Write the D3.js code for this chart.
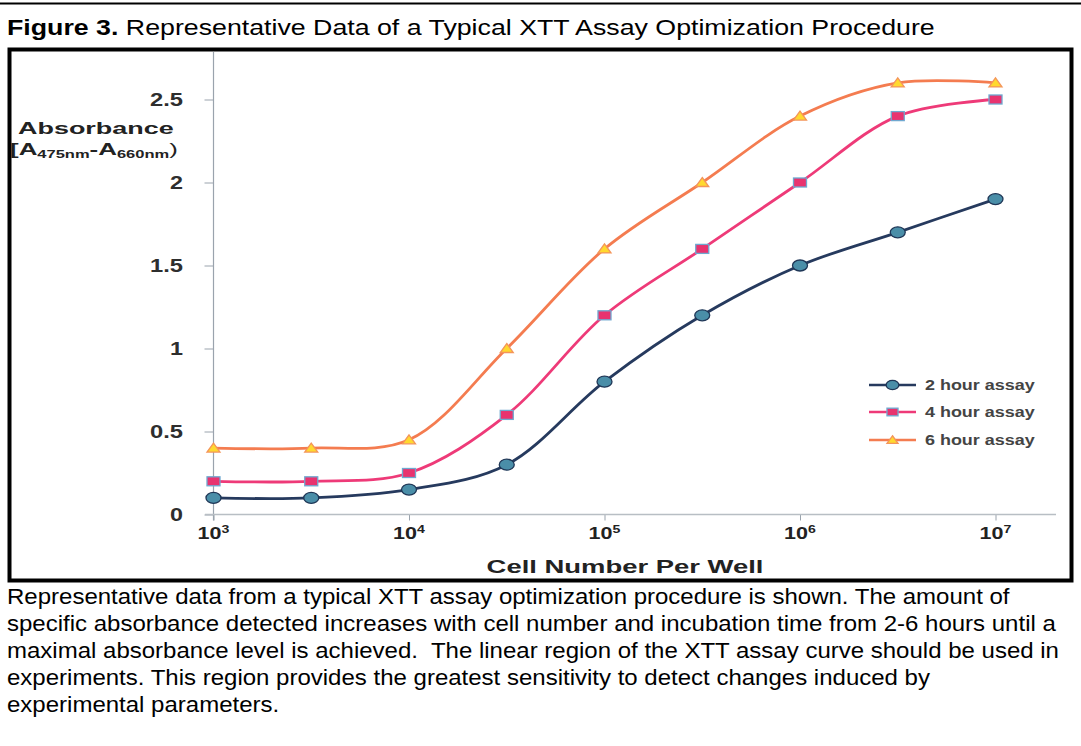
<!DOCTYPE html>
<html>
<head>
<meta charset="utf-8">
<script src="https://cdn.jsdelivr.net/npm/d3@7"></script>
<style>
  html, body { margin: 0; padding: 0; background: #fff; }
  svg { display: block; font-family: "Liberation Sans", Arial, sans-serif; }
</style>
</head>
<body>
<svg id="fig"></svg>
<script>
// cell numbers per well (half-decade steps)
const cells = [1000, 3162, 10000, 31623, 100000, 316228, 1000000, 3162278, 10000000];
const hour2 = [0.10, 0.10, 0.15, 0.30, 0.80, 1.20, 1.50, 1.70, 1.90];
const hour4 = [0.20, 0.20, 0.25, 0.60, 1.20, 1.60, 2.00, 2.40, 2.50];
const hour6 = [0.40, 0.40, 0.45, 1.00, 1.60, 2.00, 2.40, 2.60, 2.60];
const seriesNames = ["2 hour assay", "4 hour assay", "6 hour assay"];
const yTicks = [0, 0.5, 1, 1.5, 2, 2.5];
const xTicks = [1e3, 1e4, 1e5, 1e6, 1e7];
const xTickExp = ["3", "4", "5", "6", "7"];
const captionLines = [
    "Representative data from a typical XTT assay optimization procedure is shown. The amount of",
    "specific absorbance detected increases with cell number and incubation time from 2-6 hours until a",
    "maximal absorbance level is achieved.  The linear region of the XTT assay curve should be used in",
    "experiments. This region provides the greatest sensitivity to detect changes induced by",
    "experimental parameters."
];

let width = 1081;
let height = 746;

let svg = d3.select("#fig")
    .attr("width", width)
    .attr("height", height);

// the original figure is stretched sideways, so text gets a horizontal scale
function stretchText(parent, x, y, sx) {
    return parent.append("g")
        .attr("class", "stretch")
        .attr("data-x", x).attr("data-y", y)
        .attr("transform", "translate(" + x + "," + y + ") scale(" + sx + ",1)")
        .append("text");
}

// rescale a stretched text so that it spans the given width, returns the factor
function fitWidth(text, target) {
    let g = d3.select(text.node().parentNode);
    let w = text.node().getBBox().width;
    let sx = target / w;
    g.attr("transform", "translate(" + g.attr("data-x") + "," + g.attr("data-y") + ") scale(" + sx + ",1)");
    return sx;
}

// top rule
svg.append("line")
    .attr("x1", 0).attr("x2", width)
    .attr("y1", 3.5).attr("y2", 3.5)
    .attr("stroke", "#000").attr("stroke-width", 2);

// title
let title = stretchText(svg, 7, 35, 1)
    .attr("font-size", 21.6)
    .attr("fill", "#000");
title.append("tspan").attr("font-weight", "bold").text("Figure 3.");
title.append("tspan").text(" Representative Data of a Typical XTT Assay Optimization Procedure");
fitWidth(title, 928);

// frame
svg.append("rect")
    .attr("x", 9.5).attr("y", 49.5)
    .attr("width", 1062).attr("height", 531)
    .attr("fill", "none")
    .attr("stroke", "#000")
    .attr("stroke-width", 4);

let x = d3.scaleLog()
    .domain([1e3, 1e7])
    .range([213.5, 995.5]);

let y = d3.scaleLinear()
    .domain([0, 2.5])
    .range([514.5, 99.5]);

let axisColor = "#9aa3ad";

// y axis
let yAxis = svg.append("g")
    .attr("transform", "translate(" + x(1e3) + ",0)")
    .call(d3.axisLeft(y).tickValues(yTicks).tickSize(9).tickFormat(""));
yAxis.select(".domain").remove();
yAxis.selectAll(".tick line").attr("stroke", axisColor);
svg.append("line")
    .attr("x1", x(1e3)).attr("x2", x(1e3))
    .attr("y1", 52).attr("y2", y(0) + 6)
    .attr("stroke", axisColor).attr("stroke-width", 1.2);

yTicks.forEach(function (t) {
    let lab = stretchText(svg, 183, y(t) + 6.5, 1)
        .attr("text-anchor", "end")
        .attr("font-size", 18.5)
        .attr("font-weight", "bold")
        .attr("fill", "#2e2e2e")
        .text(t);
    fitWidth(lab, t === 2.5 || t === 1.5 || t === 0.5 ? 33 : 13);
});

// x axis
let xAxis = svg.append("g")
    .attr("transform", "translate(0," + y(0) + ")")
    .call(d3.axisBottom(x).tickValues(xTicks).tickSize(6).tickFormat(""));
xAxis.select(".domain").remove();
xAxis.selectAll(".tick line").attr("stroke", axisColor);
svg.append("line")
    .attr("x1", 205).attr("x2", 1056)
    .attr("y1", y(0)).attr("y2", y(0))
    .attr("stroke", "#b8bec4").attr("stroke-width", 1.5);

xTicks.forEach(function (t, i) {
    let lab = stretchText(svg, x(t), 538.5, 1)
        .attr("text-anchor", "middle")
        .attr("font-size", 16)
        .attr("font-weight", "bold")
        .attr("fill", "#222");
    lab.append("tspan").text("10");
    lab.append("tspan").attr("font-size", 10.5).attr("dy", -6).text(xTickExp[i]);
    fitWidth(lab, 32);
});

// axis titles
let xTitle = stretchText(svg, 625, 572.5, 1)
    .attr("text-anchor", "middle")
    .attr("font-size", 18)
    .attr("font-weight", "bold")
    .attr("fill", "#222")
    .text("Cell Number Per Well");
fitWidth(xTitle, 277);

let yTitle = stretchText(svg, 18, 133.5, 1)
    .attr("font-size", 16)
    .attr("font-weight", "bold")
    .attr("fill", "#222")
    .text("Absorbance");
fitWidth(yTitle, 156);

let unit = stretchText(svg, 10, 154.5, 1)
    .attr("font-size", 16.5)
    .attr("font-weight", "bold")
    .attr("fill", "#222");
unit.append("tspan").text("[A");
unit.append("tspan").attr("font-size", 10.5).attr("dy", 3.5).text("475nm");
unit.append("tspan").attr("dy", -3.5).text("-A");
unit.append("tspan").attr("font-size", 10.5).attr("dy", 3.5).text("660nm");
unit.append("tspan").attr("font-weight", "normal").attr("dy", -3.5).text(")");
fitWidth(unit, 168);

// series
let series = [
    { name: seriesNames[0], values: hour2, line: "#263a5e", fill: "#4a8ea8", stroke: "#1f3656", shape: "circle" },
    { name: seriesNames[1], values: hour4, line: "#ee3a78", fill: "#e8336f", stroke: "#6fa8d0", shape: "square" },
    { name: seriesNames[2], values: hour6, line: "#f47c50", fill: "#ffd92f", stroke: "#f4955a", shape: "triangle" }
];

let line = d3.line()
    .x(function (d) { return x(d[0]); })
    .y(function (d) { return y(d[1]); })
    .curve(d3.curveCatmullRom.alpha(0.5));

function drawMarker(g, shape, cx, cy, s) {
    if (shape === "circle") {
        g.append("ellipse")
            .attr("cx", cx).attr("cy", cy)
            .attr("rx", 7.5 * s).attr("ry", 5.5 * s);
    } else if (shape === "square") {
        g.append("rect")
            .attr("x", cx - 6.5 * s).attr("y", cy - 4.5 * s)
            .attr("width", 13 * s).attr("height", 9 * s);
    } else {
        g.append("path")
            .attr("d", "M" + cx + "," + (cy - 5 * s) +
                "L" + (cx + 6.5 * s) + "," + (cy + 4 * s) +
                "L" + (cx - 6.5 * s) + "," + (cy + 4 * s) + "Z");
    }
}

series.forEach(function (s) {
    let pts = cells.map(function (c, i) { return [c, s.values[i]]; });
    svg.append("path")
        .datum(pts)
        .attr("fill", "none")
        .attr("stroke", s.line)
        .attr("stroke-width", 2.8)
        .attr("d", line);

    let mk = svg.append("g")
        .attr("fill", s.fill)
        .attr("stroke", s.stroke)
        .attr("stroke-width", 1.3);
    pts.forEach(function (p) {
        drawMarker(mk, s.shape, x(p[0]), y(p[1]), 1);
    });
});

// legend
let legendY = [385, 412, 440];
series.forEach(function (s, i) {
    let g = svg.append("g");
    g.append("line")
        .attr("x1", 869).attr("x2", 916)
        .attr("y1", legendY[i]).attr("y2", legendY[i])
        .attr("stroke", s.line).attr("stroke-width", 2.5);
    let mk = g.append("g")
        .attr("fill", s.fill)
        .attr("stroke", s.stroke)
        .attr("stroke-width", 1.3);
    drawMarker(mk, s.shape, 892.5, legendY[i], 0.85);
    let lab = stretchText(g, 925, legendY[i] + 5, 1)
        .attr("font-size", 14)
        .attr("font-weight", "bold")
        .attr("fill", "#444")
        .text(s.name);
    fitWidth(lab, 110);
});

// caption, all lines share the scale of the first one
let capScale = 1;
captionLines.forEach(function (t, i) {
    let cap = stretchText(svg, 7, 604 + i * 27, capScale)
        .attr("font-size", 21.6)
        .attr("fill", "#000")
        .style("white-space", "pre")
        .text(t);
    if (i === 0) capScale = fitWidth(cap, 1004);
});
</script>
</body>
</html>
